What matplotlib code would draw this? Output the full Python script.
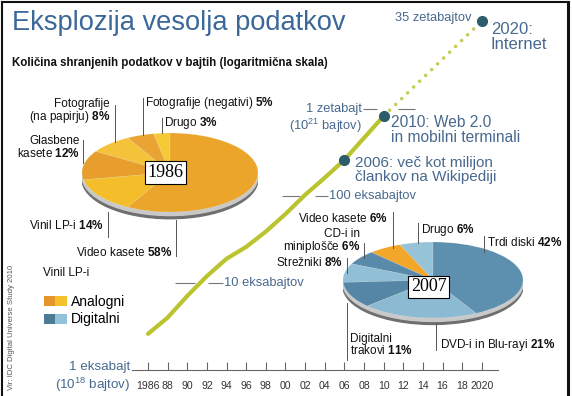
import numpy as np
import matplotlib
matplotlib.use('Agg')
import matplotlib.pyplot as plt
from matplotlib.patches import Ellipse, Patch
from matplotlib.lines import Line2D
from matplotlib.legend_handler import HandlerTuple

# %%
# stored data in exabytes
years = [1986, 1988, 1990, 1992, 1994, 1996, 1998, 2000, 2002, 2004, 2006, 2008, 2010]
stored_eb = [2.6, 4.0, 7.1, 12, 19, 26, 39, 62, 103, 162, 260, 465, 830]
proj_years = [2010, 2020]
proj_eb = [830, 35000]
milestone_years = [2006, 2010, 2020]
milestone_eb = [260, 830, 35000]

tick_years = list(range(1986, 2021, 2))
tick_labels = ['1986'] + ['%02d' % (y % 100) for y in range(1988, 2020, 2)] + ['2020']

# pies, counterclockwise from 12 o'clock
pie86_labels = ['Drugo', 'Fotografije (negativi)', 'Fotografije\n(na papirju)',
                'Glasbene\nkasete', 'Vinil LP-i', 'Video kasete']
pie86_shares = [3, 5, 8, 12, 14, 58]
pie07_labels = ['Drugo', 'Video kasete', 'CD-i in\nminiplošče', 'Strežniki',
                'Digitalni\ntrakovi', 'DVD-i in Blu-rayi', 'Trdi diski']
pie07_shares = [6, 6, 6, 8, 11, 21, 42]

legend_labels = ['Analogni', 'Digitalni']

# %%
plt.rcParams['font.family'] = ['Liberation Sans', 'DejaVu Sans']
plt.rcParams['mathtext.fontset'] = 'custom'
plt.rcParams['mathtext.rm'] = 'Liberation Sans'
plt.rcParams['mathtext.bf'] = 'Liberation Sans:bold'
plt.rcParams['mathtext.default'] = 'regular'

BLUE = '#48698f'
W, H = 572, 396

def fx(px):
    return px / W

def fy(py):
    return 1 - py / H

# the picture squeezes the projection above 1 ZB
K = 0.655

def fwd(v):
    with np.errstate(all='ignore'):
        t = np.log10(np.clip(np.asarray(v, float), 1e-9, None))
        return np.where(t > 3, 3 + (t - 3) * K, t)

def inv(t):
    with np.errstate(all='ignore'):
        t = np.asarray(t, float)
        return np.where(t > 3, 10 ** (3 + (t - 3) / K), 10 ** t)


fig = plt.figure(figsize=(5.72, 3.96), dpi=100)
ax = fig.add_axes([0, 0, 1, 1])
ax.patch.set_alpha(0)
ax.set_yscale('function', functions=(fwd, inv))
ax.set_xlim(1970.93, 2029.18)
ax.set_ylim(inv(-0.299), inv(370 / 87))

for s in ['top', 'right', 'left']:
    ax.spines[s].set_visible(False)
ax.spines['bottom'].set_position(('data', 1.0))
ax.spines['bottom'].set_bounds(1984.4, 2021.6)
ax.spines['bottom'].set_color('#666')
ax.spines['bottom'].set_linewidth(0.8)
ax.set_xticks(tick_years)
ax.set_xticklabels(tick_labels)
ax.tick_params(axis='x', direction='in', length=6, width=0.8, color='#666',
               labelsize=7.6, labelcolor='#333', pad=8)
ax.set_yticks([])
ax.set_yticks([], minor=True)

ax.plot(years, stored_eb, color='#bac42e', lw=3, solid_capstyle='round', zorder=3)
ax.plot(proj_years, proj_eb, color='#c6cc5a', lw=2.6, linestyle=(0, (0.01, 2.3)),
        dash_capstyle='round', zorder=3)
ax.plot(milestone_years, milestone_eb, 'o', color='#2d5c6b', ms=7, zorder=5)

# decade guides
ax.hlines([10, 10], [1988.75, 1992.1], [1990.8, 1993.6], color='#777', lw=0.8)
ax.hlines([100, 100], [1999.6, 2003.0], [2001.5, 2004.3], color='#777', lw=0.8)
ax.hlines([1000, 1000], [2007.9, 2011.5], [2009.3, 2013.2], color='#777', lw=0.8)
ax.text(2004.4, 100, '100 eksabajtov', color=BLUE, fontsize=9.3, va='center')
ax.text(1993.7, 10, '10 eksabajtov', color=BLUE, fontsize=9.3, va='center')
ax.text(2007.8, 1000, '1 zetabajt', color=BLUE, fontsize=9.3, va='center', ha='right')
ax.annotate('(10$^{21}$ bajtov)', xy=(2007.8, 1000), xytext=(0, -17),
            textcoords='offset pixels', color=BLUE, fontsize=9.3, va='center', ha='right')
ax.annotate('1 eksabajt', xy=(1984.2, 1), xytext=(0, 3),
            textcoords='offset pixels', color=BLUE, fontsize=9.6, va='center', ha='right')
ax.annotate('(10$^{18}$ bajtov)', xy=(1984.2, 1), xytext=(0, -15),
            textcoords='offset pixels', color=BLUE, fontsize=9.6, va='center', ha='right')
ax.annotate('35 zetabajtov', xy=(2020, 35000), xytext=(-10, 3),
            textcoords='offset pixels', color=BLUE, fontsize=9.3, va='center', ha='right')

ax.annotate('2020:\nInternet', xy=(2020, 35000), xytext=(9, -16),
            textcoords='offset pixels', color=BLUE, fontsize=12, va='center',
            linespacing=0.95)
ax.annotate('2010: Web 2.0\nin mobilni terminali', xy=(2010, 830), xytext=(7, -14),
            textcoords='offset pixels', color=BLUE, fontsize=11.2, va='center',
            linespacing=0.95)
ax.annotate('2006: več kot milijon\nčlankov na Wikipediji', xy=(2006, 260), xytext=(11, -10),
            textcoords='offset pixels', color=BLUE, fontsize=11, va='center',
            linespacing=0.95)


# %%
def draw_pie(cx, cy, rx, ry, shares, colors, year, box_xy):
    pax = fig.add_axes([fx(cx - rx), fy(cy + 1.2 * ry), 2 * rx / W, 2.2 * ry / H])
    pax.add_patch(Ellipse((0, -0.17), 2, 2, color='#6f6f6f', zorder=0))
    pax.add_patch(Ellipse((0, -0.09), 2, 2, color='#c9c9c9', zorder=0))
    pax.pie(shares, colors=colors, startangle=90, counterclock=True, radius=1,
            wedgeprops=dict(linewidth=0.3, edgecolor='#ffffff55'))
    pax.set_aspect('auto')
    pax.set_xlim(-1, 1)
    pax.set_ylim(-1.2, 1)
    pax.axis('off')
    pax.text(box_xy[0], box_xy[1], year, family='Liberation Serif', fontsize=13,
             ha='center', va='center',
             bbox=dict(boxstyle='square,pad=0.15', fc='white', ec='black', lw=0.8))
    return pax


draw_pie(170, 172.5, 88, 39.5, pie86_shares,
         ['#f6c936', '#eaa433', '#f5c33a', '#e89e2c', '#f3be2a', '#eca52b'],
         '1986', (-0.05, 0))
draw_pie(433, 280, 90, 38, pie07_shares,
         ['#97c3d8', '#f2a62a', '#5a8aaa', '#90bfd6', '#5586a6', '#8bbad2', '#5d8faf'],
         '2007', (-0.045, -0.18))

# pie labels: (text x, text y, align, leader x, leader y0, leader y1)
layout86 = [(164, 123, 'left', 162, 118, 133),
            (145, 103, 'left', 143, 98, 135),
            (110, 111.5, 'right', 115, 105, 142),
            (80, 147.5, 'right', 83, 140, 163),
            (104, 225, 'right', 108, 212, 237),
            (172, 252, 'right', 176, 220, 256)]
layout07 = [(421, 230, 'left', 418, 223, 243),
            (388, 218, 'right', 393, 212, 248),
            (360, 241.5, 'right', 364, 243, 258),
            (343, 263, 'right', 347, 258, 273),
            (350, 345, 'left', 347, 303, 360),
            (440, 345, 'left', 436, 323, 350),
            (487, 242, 'left', 484, 236, 252)]

for labels, shares, layout in [(pie86_labels, pie86_shares, layout86),
                               (pie07_labels, pie07_shares, layout07)]:
    for lab, sh, (tx, ty, ha, lx, ly0, ly1) in zip(labels, shares, layout):
        fig.add_artist(Line2D([fx(lx), fx(lx)], [fy(ly0), fy(ly1)], color='#555',
                              lw=0.7, transform=fig.transFigure))
        fig.text(fx(tx), fy(ty), lab + ' $\\mathbf{%d\\%%}$' % sh, fontsize=8.5,
                 ha=ha, va='center', color='#111', linespacing=0.95)

fig.text(fx(43), fy(273), 'Vinil LP-i', fontsize=8.5, va='center', color='#111')

# legend
handles = [(Patch(fc='#e5962a', lw=0), Patch(fc='#f5c02e', lw=0)),
           (Patch(fc='#4d7a96', lw=0), Patch(fc='#92c2d9', lw=0))]
fig.legend(handles, legend_labels, handler_map={tuple: HandlerTuple(ndivide=None, pad=0)},
           loc='upper left', bbox_to_anchor=(fx(44), fy(295)), frameon=False,
           fontsize=10, handlelength=1.65, handleheight=0.75, handletextpad=0.3,
           labelspacing=0.25, borderpad=0, borderaxespad=0)

# titles
fig.text(fx(12), fy(23), 'Eksplozija vesolja podatkov', family='Liberation Sans',
         fontsize=19.6, color='#3b6898', va='center')
fig.text(fx(12), fy(63), 'Količina shranjenih podatkov v bajtih (logaritmična skala)',
         fontsize=8.3, weight='bold', va='center', color='#111')
fig.text(fx(12), fy(327), 'Vir: IDC Digital Universe Study 2010', rotation=90,
         fontsize=5.6, color='#555', va='center', ha='center')

# frame
for xs, ys, lw in [([2, 2], [396, 2], 1.5), ([2, 568], [2, 2], 1.5), ([568, 568], [2, 396], 2.2)]:
    fig.add_artist(Line2D([fx(x) for x in xs], [fy(y) for y in ys], color='#111', lw=lw,
                          transform=fig.transFigure))

fig.savefig('out.png', dpi=100)
